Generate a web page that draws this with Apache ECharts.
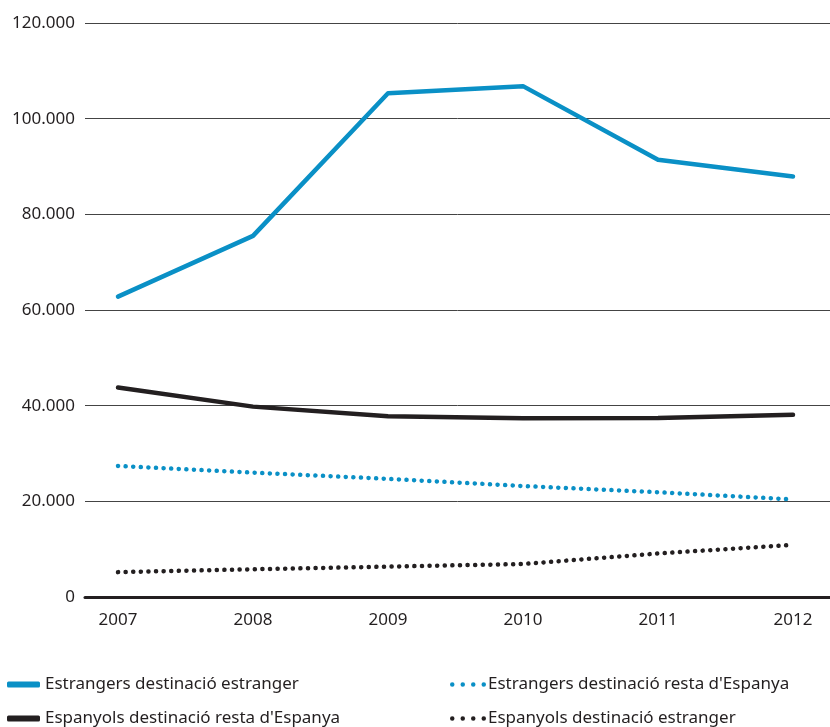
<!DOCTYPE html>
<html>
<head>
<meta charset="utf-8">
<script src="https://cdn.jsdelivr.net/npm/echarts@6/dist/echarts.min.js"></script>
<style>
html,body{margin:0;padding:0;background:#fff;}
#chart{width:830px;height:727px;}
</style>
</head>
<body>
<div id="chart"></div>
<script>
var years = ['2007', '2008', '2009', '2010', '2011', '2012'];
var estrangersEstranger = [62800, 75500, 105300, 106800, 91400, 87900];
var espanyolsResta = [43800, 39800, 37800, 37350, 37400, 38100];
var estrangersResta = [27400, 26000, 24700, 23200, 21900, 20400];
var espanyolsEstranger = [5200, 5800, 6350, 6900, 9100, 10900];
var yTicks = [0, 20000, 40000, 60000, 80000, 100000, 120000];

var names = ['Estrangers destinació estranger', "Estrangers destinació resta d'Espanya",
             "Espanyols destinació resta d'Espanya", 'Espanyols destinació estranger'];
var BLUE = '#0a90c6', DARK = '#231f20';
var FONT = 'Noto Sans';

function fmt(v) { return String(v).replace(/\B(?=(\d{3})+(?!\d))/g, '.'); }

var dotsIcon = 'path://M0,2.25a2.25,2.25 0 1,0 4.5,0a2.25,2.25 0 1,0 -4.5,0zM10.5,2.25a2.25,2.25 0 1,0 4.5,0a2.25,2.25 0 1,0 -4.5,0zM21,2.25a2.25,2.25 0 1,0 4.5,0a2.25,2.25 0 1,0 -4.5,0zM31.5,2.25a2.25,2.25 0 1,0 4.5,0a2.25,2.25 0 1,0 -4.5,0z';

function legend(name, left, top, dotted) {
  return {
    data: [name], left: left, top: top, orient: 'horizontal',
    icon: dotted ? dotsIcon : 'roundRect',
    itemWidth: dotted ? 36 : 33, itemHeight: dotted ? 4.5 : 6, itemGap: 0,
    padding: 0,
    textStyle: { fontFamily: FONT, fontSize: 17, color: DARK, padding: [0, 0, 0, dotted ? -3 : 0] },
    selectedMode: false
  };
}

var chart = echarts.init(document.getElementById('chart'));
chart.setOption({
  animation: false,
  backgroundColor: '#fff',
  legend: [
    legend(names[0], 7, 676, false),
    legend(names[1], 450, 676, true),
    legend(names[2], 7, 710, false),
    legend(names[3], 450, 710, true)
  ],
  grid: [
    { left: 85, right: 0, top: 23, bottom: 130 },
    { left: 118, right: 37, top: 23, bottom: 130 }
  ],
  xAxis: [
    { gridIndex: 0, type: 'category', data: years, boundaryGap: false,
      axisLine: { show: true, lineStyle: { color: DARK, width: 3 } },
      axisTick: { show: false }, axisLabel: { show: false }, splitLine: { show: false } },
    { gridIndex: 1, type: 'category', data: years, boundaryGap: false,
      axisLine: { show: false }, axisTick: { show: false },
      axisLabel: { fontFamily: FONT, fontSize: 17, color: DARK, margin: 15 } }
  ],
  yAxis: [
    { gridIndex: 0, type: 'value', min: yTicks[0], max: yTicks[yTicks.length - 1], interval: yTicks[1] - yTicks[0],
      axisLine: { show: false }, axisTick: { show: false },
      axisLabel: { fontFamily: FONT, fontSize: 17, color: DARK, margin: 10, formatter: fmt },
      splitLine: { show: true, lineStyle: { color: '#444', width: 1 } } },
    { gridIndex: 1, type: 'value', min: yTicks[0], max: yTicks[yTicks.length - 1], interval: yTicks[1] - yTicks[0],
      axisLine: { show: false }, axisTick: { show: false }, axisLabel: { show: false },
      splitLine: { show: false } }
  ],
  series: [
    { name: names[0], type: 'line', xAxisIndex: 1, yAxisIndex: 1, data: estrangersEstranger,
      symbol: 'none', color: BLUE, lineStyle: { color: BLUE, width: 4.5, cap: 'round', join: 'round' } },
    { name: names[1], type: 'line', xAxisIndex: 1, yAxisIndex: 1, data: estrangersResta,
      symbol: 'none', color: BLUE, lineStyle: { color: BLUE, width: 4.5, type: [0.1, 7.5], cap: 'round' } },
    { name: names[2], type: 'line', xAxisIndex: 1, yAxisIndex: 1, data: espanyolsResta,
      symbol: 'none', color: DARK, lineStyle: { color: DARK, width: 4.5, cap: 'round', join: 'round' } },
    { name: names[3], type: 'line', xAxisIndex: 1, yAxisIndex: 1, data: espanyolsEstranger,
      symbol: 'none', color: DARK, lineStyle: { color: DARK, width: 4.5, type: [0.1, 7.5], cap: 'round' } }
  ]
});
</script>
</body>
</html>
